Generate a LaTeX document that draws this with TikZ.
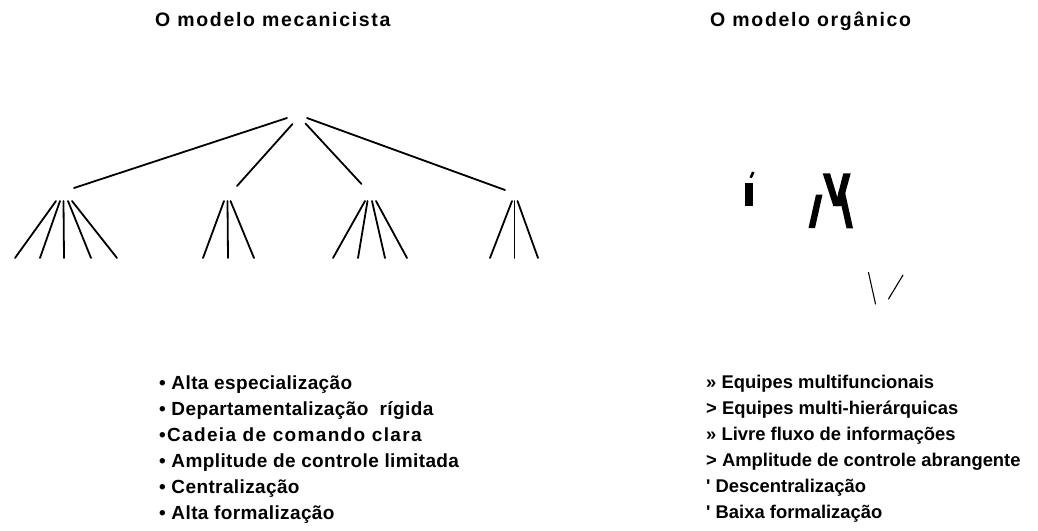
\documentclass[tikz,border=0pt]{standalone}
\usepackage{fontspec}
\setmainfont{Liberation Sans}
\newfontfamily\titlefont[LetterSpace=8.5]{Liberation Sans}
\newfontfamily\listfont[LetterSpace=2]{Liberation Sans}
\newfontfamily\widefont[LetterSpace=7]{Liberation Sans}
\usetikzlibrary{positioning}

\begin{document}
\begin{tikzpicture}[x=1pt, y=-1pt, line cap=round,
  branch/.style={line width=1.8pt},
  title/.style={anchor=base west, inner sep=0pt, font=\titlefont\bfseries\fontsize{19.5}{22}\selectfont},
  mitem/.style={anchor=base west, inner sep=0pt, font=\listfont\bfseries\fontsize{19}{22}\selectfont},
  oitem/.style={anchor=base west, inner sep=0pt, font=\bfseries\fontsize{18.4}{22}\selectfont}]

\useasboundingbox (0,0) rectangle (1038,530);

% titles
\node[title] (tmec) at (155,27) {O modelo mecanicista};
\node[title] (torg) at (710,27) {O modelo orgânico};

% mechanistic tree: top branches
\draw[branch] (287,118) -- (74,188);
\draw[branch] (292.5,124) -- (237,186);
\draw[branch] (305.5,123.5) -- (361.5,184);
\draw[branch] (307,118) -- (505,190);
% leaves of the four groups
\foreach \tx/\bx in {56/15, 60/40, 63.5/64, 68/91, 72/117,
                     224/203, 227.5/228, 230.5/254,
                     365/333, 367.5/358, 372/385, 376/407,
                     512/490, 514.5/514.5, 517.5/538}{
  \draw[branch] (\tx,201) -- (\bx,258);
}

% organic model: broken fragments
\fill (745,183) rectangle (752.5,206);
\fill (749.5,177.5) -- (752,171.5) -- (754.5,172.5) -- (752,178) -- cycle;
\fill (808.5,228) -- (815,228) -- (822.5,194.5) -- (816,194.5) -- cycle;
\fill (822.7,173.3) -- (830,173.3) -- (840,206) -- (833.3,206) -- cycle;
\fill (843.3,173.3) -- (850.7,173.3) -- (841.7,206) -- (835,206) -- cycle;
\fill (838.3,191.7) -- (844.5,190) -- (853,228.3) -- (846.5,228.3) -- cycle;
\draw[line width=1.1pt] (868.5,272.5) -- (875.5,304);
\draw[line width=1.1pt] (888.5,299) -- (903,275);

% lists
\foreach \t [count=\i] in {• Alta especialização,
    • Departamentalização\ \ rígida,
    {\widefont •Cadeia de comando clara},
    • Amplitude de controle limitada,
    • Centralização,
    • Alta formalização}{
  \node[mitem] (m\i) at (159,389+26*\i-26) {\t};
}
\foreach \t [count=\i] in {» Equipes multifuncionais,
    > Equipes multi-hierárquicas,
    » Livre fluxo de informações,
    > Amplitude de controle abrangente,
    \textquotesingle\ Descentralização,
    \textquotesingle\ Baixa formalização}{
  \node[oitem] (o\i) at (706,388+26*\i-26) {\t};
}

\end{tikzpicture}
\end{document}
